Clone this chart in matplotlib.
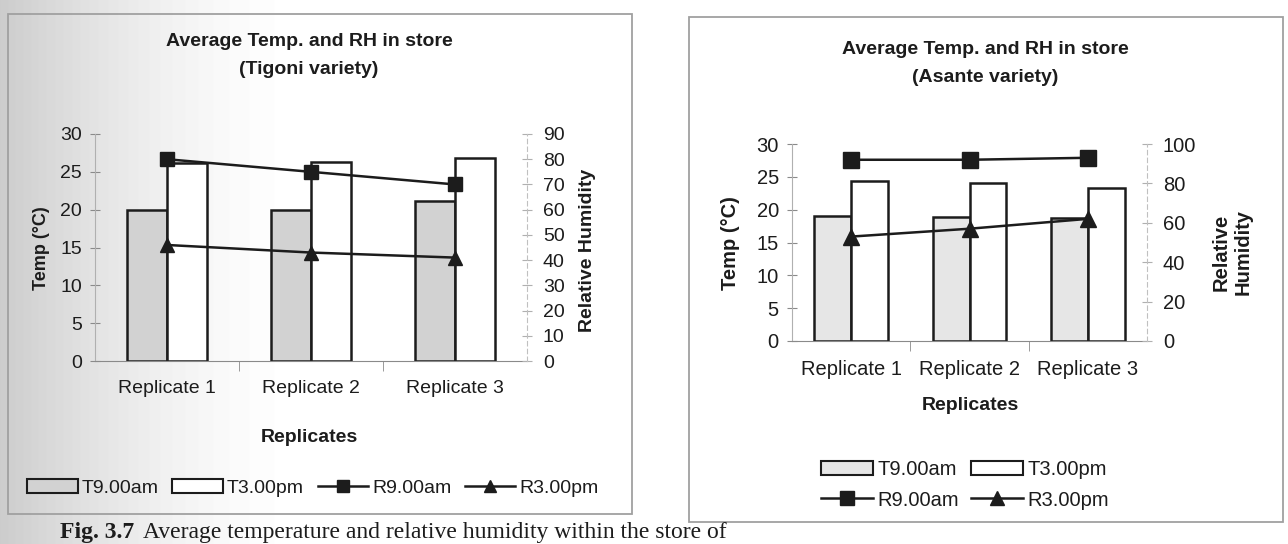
import numpy as np
import matplotlib.pyplot as plt
from matplotlib.patches import Rectangle, Patch
from matplotlib.lines import Line2D

plt.rcParams['font.family'] = ['Liberation Sans', 'DejaVu Sans']

# ---- data ----
replicates = ["Replicate 1", "Replicate 2", "Replicate 3"]

tigoni_t9 = [19.9, 20.0, 21.1]     # temp at 9.00am (C)
tigoni_t3 = [26.2, 26.3, 26.8]     # temp at 3.00pm (C)
tigoni_r9 = [80, 75, 70]           # RH at 9.00am
tigoni_r3 = [46, 43, 41]           # RH at 3.00pm

asante_t9 = [19.0, 18.9, 18.7]
asante_t3 = [24.4, 24.0, 23.3]
asante_r9 = [92, 92, 93]
asante_r3 = [53, 57, 62]

W, H = 1288, 544
INK = "#1c1c1c"
GREY = "#8a8a8a"


def px(x0, y0, x1, y1):
    # pixel box (top-left origin) -> figure fraction rect
    return [x0 / W, 1 - y1 / H, (x1 - x0) / W, (y1 - y0) / H]


def chart(rect, t9, t3, r9, r3, rhmax, rhstep, width, fill, fs, msize):
    ax = fig.add_axes(rect)
    ax.patch.set_alpha(0)
    x = np.arange(len(replicates))
    ax.bar(x - width / 2, t9, width, color=fill, edgecolor=INK, linewidth=1.8, zorder=2)
    ax.bar(x + width / 2, t3, width, color="white", edgecolor=INK, linewidth=1.8, zorder=2)
    ax.set_xlim(-0.5, 2.5)
    ax.set_ylim(0, 30)
    ax.set_yticks(range(0, 31, 5))
    ax.set_xticks(x)
    ax.set_xticklabels(replicates, fontsize=fs, color=INK)
    ax.set_xticks([0.5, 1.5], minor=True)
    ax.tick_params(axis="x", which="major", length=0, pad=14)
    ax.tick_params(axis="x", which="minor", length=7, direction="out", color=GREY)
    ax.tick_params(axis="y", labelsize=fs, labelcolor=INK, direction="inout",
                   length=7, color=GREY, pad=6)
    for s in ["top", "right"]:
        ax.spines[s].set_visible(False)
    ax.spines["left"].set_color("#b0b0b0")
    ax.spines["bottom"].set_color(GREY)

    ax2 = ax.twinx()
    ax2.plot(x, r9, color=INK, lw=1.8, marker="s", ms=msize, mfc=INK, zorder=3)
    ax2.plot(x, r3, color=INK, lw=1.8, marker="^", ms=msize, mfc=INK, zorder=3)
    ax2.set_ylim(0, rhmax)
    ax2.set_yticks(range(0, rhmax + 1, rhstep))
    ax2.tick_params(axis="y", labelsize=fs, labelcolor=INK, direction="inout",
                    length=7, color="#b0b0b0", pad=8)
    for s in ["top", "left", "bottom"]:
        ax2.spines[s].set_visible(False)
    ax2.spines["right"].set_color("#c0c0c0")
    ax2.spines["right"].set_linestyle((0, (4, 3)))
    return ax, ax2


fig = plt.figure(figsize=(12.88, 5.44), dpi=100)

# soft grey shading of the scanned page towards the left edge
bg = fig.add_axes([0, 0, 1, 1], zorder=-10)
shade = 1 - 0.2 * np.clip(1 - np.arange(W) / 300.0, 0, 1) ** 1.6
bg.imshow(np.tile(shade, (H, 1)), cmap="gray", vmin=0, vmax=1, aspect="auto",
          extent=[0, 1, 0, 1])
bg.axis("off")

# page frames of the two pasted charts
for box in [(8, 14, 632, 514), (689, 17, 1283, 522)]:
    fig.add_artist(Rectangle((box[0] / W, 1 - box[3] / H), (box[2] - box[0]) / W,
                             (box[3] - box[1]) / H, transform=fig.transFigure,
                             facecolor="none", edgecolor="#a0a0a0", lw=1.3, zorder=0))

# ---- Tigoni ----
ax, ax2 = chart(px(95, 134, 527, 361), tigoni_t9, tigoni_t3, tigoni_r9, tigoni_r3,
                90, 10, 0.28, "#d2d2d2", 14, 10)
fig.text(309 / W, 1 - 42 / H, "Average Temp. and RH in store", ha="center", va="center",
         fontsize=14, fontweight="bold", color=INK)
fig.text(309 / W, 1 - 69 / H, "(Tigoni variety)", ha="center", va="center",
         fontsize=14, fontweight="bold", color=INK)
fig.text(309 / W, 1 - 437 / H, "Replicates", ha="center", va="center",
         fontsize=14, fontweight="bold", color=INK)
fig.text(41 / W, 1 - 248 / H, "Temp (°C)", rotation=90, ha="center", va="center",
         fontsize=13, fontweight="bold", color=INK)
fig.text(588 / W, 1 - 250 / H, "Relative Humidity", rotation=90, ha="center", va="center",
         fontsize=14, fontweight="bold", color=INK)

h_t9 = Patch(facecolor="#d2d2d2", edgecolor=INK, lw=1.5, label="T9.00am")
h_t3 = Patch(facecolor="white", edgecolor=INK, lw=1.5, label="T3.00pm")
h_r9 = Line2D([], [], color=INK, lw=1.8, marker="s", ms=9, label="R9.00am")
h_r3 = Line2D([], [], color=INK, lw=1.8, marker="^", ms=9, label="R3.00pm")
fig.legend(handles=[h_t9, h_t3, h_r9, h_r3], ncol=4, loc="center",
           bbox_to_anchor=(313 / W, 1 - 488 / H), frameon=False, fontsize=14,
           handlelength=2.6, handleheight=0.7, handletextpad=0.2, columnspacing=0.7,
           labelcolor=INK)

# ---- Asante ----
bx, bx2 = chart(px(792, 144, 1147, 341), asante_t9, asante_t3, asante_r9, asante_r3,
                100, 20, 0.31, "#e6e6e6", 14.5, 11)
fig.text(985 / W, 1 - 50 / H, "Average Temp. and RH in store", ha="center", va="center",
         fontsize=14, fontweight="bold", color=INK)
fig.text(985 / W, 1 - 78 / H, "(Asante variety)", ha="center", va="center",
         fontsize=14, fontweight="bold", color=INK)
fig.text(970 / W, 1 - 405 / H, "Replicates", ha="center", va="center",
         fontsize=14, fontweight="bold", color=INK)
fig.text(730 / W, 1 - 243 / H, "Temp (°C)", rotation=90, ha="center", va="center",
         fontsize=14.5, fontweight="bold", color=INK)
fig.text(1232 / W, 1 - 252 / H, "Relative\nHumidity", rotation=90, ha="center",
         va="center", fontsize=14.5, fontweight="bold", color=INK, linespacing=1.2)

g_t9 = Patch(facecolor="#e6e6e6", edgecolor=INK, lw=1.5, label="T9.00am")
g_t3 = Patch(facecolor="white", edgecolor=INK, lw=1.5, label="T3.00pm")
g_r9 = Line2D([], [], color=INK, lw=1.8, marker="s", ms=10, label="R9.00am")
g_r3 = Line2D([], [], color=INK, lw=1.8, marker="^", ms=10, label="R3.00pm")
fig.legend(handles=[g_t9, g_r9, g_t3, g_r3], ncol=2, loc="center",
           bbox_to_anchor=(965 / W, 1 - 485 / H), frameon=False, fontsize=14.5,
           handlelength=2.6, handleheight=0.7, handletextpad=0.2, columnspacing=0.6,
           labelspacing=0.55, labelcolor=INK)

# caption of the scanned page
fig.text(60 / W, 1 - 538 / H, "Fig. 3.7", ha="left", va="baseline", fontsize=17,
         fontweight="bold", family="Liberation Serif", color=INK)
fig.text(143 / W, 1 - 538 / H,
         "Average temperature and relative humidity within the store of",
         ha="left", va="baseline", fontsize=17, family="Liberation Serif", color=INK)

fig.savefig("out.png", dpi=100)
